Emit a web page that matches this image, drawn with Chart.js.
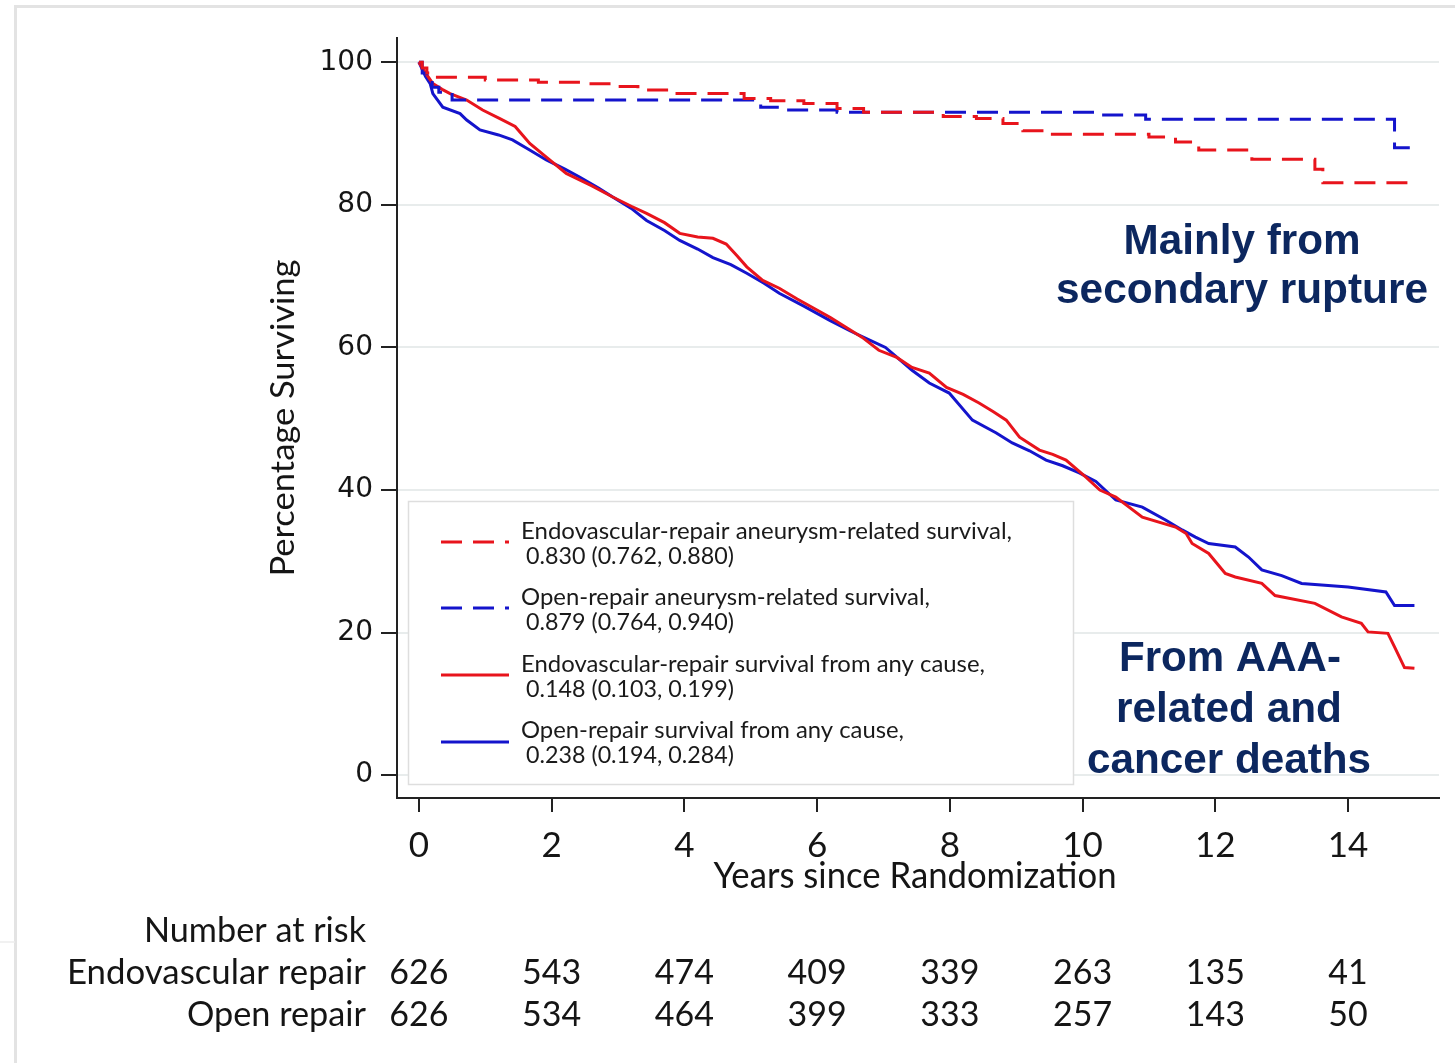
<!DOCTYPE html>
<html>
<head>
<meta charset="utf-8">
<script src="https://cdn.jsdelivr.net/npm/chart.js@4.4.1/dist/chart.umd.min.js"></script>
<style>
html,body{margin:0;padding:0;background:#fff;overflow:hidden}
#wrap{position:relative;width:1455px;height:1063px}
</style>
</head>
<body>
<div id="wrap"><canvas id="c" width="1455" height="1063"></canvas></div>
<script>
// ---------------- DATA ----------------
const xTickValues = [0, 2, 4, 6, 8, 10, 12, 14];
const xTickLabels = ['0', '2', '4', '6', '8', '10', '12', '14'];
const yTickValues = [0, 20, 40, 60, 80, 100];
const xAxisTitle = 'Years since Randomization';
const yAxisTitle = 'Percentage Surviving';

const seriesNames = [
  'Endovascular-repair aneurysm-related survival,',
  'Open-repair aneurysm-related survival,',
  'Endovascular-repair survival from any cause,',
  'Open-repair survival from any cause,'
];
const seriesStats = [
  '0.830 (0.762, 0.880)',
  '0.879 (0.764, 0.940)',
  '0.148 (0.103, 0.199)',
  '0.238 (0.194, 0.284)'
];

// Endovascular repair, aneurysm-related survival (step function)
const endoRelYears = [0, 0.05, 0.12, 0.25, 1.0, 1.8, 2.5, 2.9, 3.3, 3.8, 4.9, 5.3, 5.8, 6.3, 6.7, 7.9, 8.4, 8.8, 9.1, 9.5, 11.0, 11.4, 11.75, 12.55, 13.5, 13.62, 14.9];
const endoRelPct   = [100, 99.2, 98.5, 97.9, 97.5, 97.2, 97.0, 96.6, 96.1, 95.6, 94.9, 94.6, 94.2, 93.5, 93.0, 92.4, 92.1, 91.4, 90.4, 89.9, 89.5, 88.8, 87.7, 86.4, 85.0, 83.1, 83.1];

// Open repair, aneurysm-related survival (step function)
const openRelYears = [0, 0.05, 0.12, 0.2, 0.3, 0.5, 5.15, 5.4, 6.3, 10.2, 10.95, 14.7, 14.93];
const openRelPct   = [100, 98.5, 97.5, 96.5, 95.8, 94.7, 93.7, 93.3, 93.0, 92.6, 92.0, 88.0, 88.0];

// Endovascular repair, survival from any cause
const endoAllYears = [0, 0.1, 0.21, 0.35, 0.47, 0.72, 0.96, 1.22, 1.45, 1.67, 1.92, 2.22, 2.6, 2.92, 3.2, 3.43, 3.7, 3.93, 4.2, 4.43, 4.63, 4.8, 4.94, 5.18, 5.43, 5.7, 5.93, 6.2, 6.44, 6.68, 6.93, 7.2, 7.43, 7.69, 7.95, 8.2, 8.44, 8.65, 8.85, 9.05, 9.35, 9.55, 9.75, 10.05, 10.26, 10.5, 10.9, 11.4, 11.56, 11.65, 11.9, 12.15, 12.3, 12.7, 12.9, 13.5, 13.9, 14.2, 14.3, 14.6, 14.7, 14.85, 15.0];
const endoAllPct   = [100, 98.5, 97.0, 96.2, 95.6, 94.7, 93.3, 92.1, 91.0, 88.6, 86.7, 84.4, 82.7, 81.1, 79.8, 78.8, 77.5, 76.0, 75.5, 75.3, 74.5, 72.8, 71.3, 69.4, 68.3, 66.8, 65.6, 64.2, 62.8, 61.4, 59.6, 58.6, 57.2, 56.4, 54.4, 53.4, 52.2, 51.0, 49.8, 47.4, 45.6, 45.0, 44.2, 41.8, 40.0, 39.0, 36.2, 34.8, 33.9, 32.5, 31.1, 28.3, 27.8, 26.9, 25.2, 24.1, 22.2, 21.3, 20.1, 19.9, 18.0, 15.1, 15.0];

// Open repair, survival from any cause
const openAllYears = [0, 0.1, 0.17, 0.21, 0.36, 0.62, 0.72, 0.92, 1.2, 1.41, 1.65, 1.92, 2.2, 2.42, 2.7, 2.92, 3.2, 3.43, 3.7, 3.93, 4.2, 4.43, 4.7, 4.94, 5.2, 5.43, 5.8, 6.19, 6.5, 6.8, 7.03, 7.43, 7.69, 7.99, 8.34, 8.7, 8.94, 9.2, 9.45, 9.7, 9.95, 10.2, 10.5, 10.9, 11.25, 11.5, 11.7, 11.9, 12.3, 12.5, 12.7, 13.0, 13.3, 14.0, 14.57, 14.7, 15.0];
const openAllPct   = [100, 98.0, 97.0, 95.6, 93.7, 92.8, 91.9, 90.5, 89.8, 89.1, 87.8, 86.3, 85.0, 83.9, 82.4, 81.1, 79.5, 77.8, 76.4, 75.0, 73.8, 72.6, 71.6, 70.4, 69.0, 67.6, 65.8, 63.8, 62.3, 61.0, 60.0, 56.8, 55.0, 53.6, 49.8, 48.0, 46.6, 45.5, 44.2, 43.4, 42.4, 41.2, 38.6, 37.6, 35.8, 34.4, 33.4, 32.5, 32.0, 30.6, 28.8, 28.0, 26.9, 26.4, 25.7, 23.8, 23.8];

// Number at risk table
const riskTitle = 'Number at risk';
const riskGroups = ['Endovascular repair', 'Open repair'];
const riskEndo = [626, 543, 474, 409, 339, 263, 135, 41];
const riskOpen = [626, 534, 464, 399, 333, 257, 143, 50];

// Annotations
const noteTop = ['Mainly from', 'secondary rupture'];
const noteBottom = ['From AAA-', 'related and', 'cancer deaths'];

// ---------------- BUILD ----------------
const RED = '#e8141c';
const BLUE = '#1414cc';
const NAVY = '#0c275f';
const toPts = (xs, ys) => xs.map((x, i) => ({ x: x, y: ys[i] }));

function fitText(ctx, text, x, y, width, align) {
  ctx.save();
  const w = ctx.measureText(text).width;
  const s = width ? width / w : 1;
  ctx.translate(x, y);
  ctx.scale(s, 1);
  ctx.textAlign = align;
  ctx.fillText(text, 0, 0);
  ctx.restore();
}

const decorPlugin = {
  id: 'decor',
  beforeDraw(chart) {
    const ctx = chart.ctx;
    ctx.save();
    ctx.fillStyle = '#ffffff';
    ctx.fillRect(0, 0, chart.width, chart.height);
    ctx.strokeStyle = '#e3e3e3';
    ctx.lineWidth = 3;
    ctx.beginPath();
    ctx.moveTo(15.5, 1063); ctx.lineTo(15.5, 6.5); ctx.lineTo(1455, 6.5);
    ctx.stroke();
    ctx.lineWidth = 1.5;
    ctx.strokeStyle = '#ececec';
    ctx.beginPath();
    ctx.moveTo(0, 942); ctx.lineTo(15, 942);
    ctx.stroke();
    ctx.restore();
  },
  afterDraw(chart) {
    const ctx = chart.ctx;
    const xs = chart.scales.x;
    ctx.save();
    ctx.textBaseline = 'alphabetic';

    // Axis titles
    ctx.fillStyle = '#151515';
    ctx.font = '36px Lato';
    fitText(ctx, xAxisTitle, 915, 888, 403, 'center');
    ctx.save();
    ctx.translate(294, 418);
    ctx.rotate(-Math.PI / 2);
    ctx.font = '32px Lato';
    fitText(ctx, yAxisTitle, 0, 0, 317, 'center');
    ctx.restore();

    // Legend box
    ctx.fillStyle = '#ffffff';
    ctx.fillRect(408, 501, 665, 283);
    ctx.strokeStyle = '#dedede';
    ctx.lineWidth = 1.5;
    ctx.strokeRect(408.5, 501.5, 665, 283);
    const sampleY = [542, 608, 675, 742];
    const line1Y = [539, 605, 672, 738];
    const line2Y = [564, 630, 697, 763];
    const line1W = [491, 409, 464, 383];
    chart.data.datasets.forEach((ds, i) => {
      ctx.save();
      ctx.strokeStyle = ds.borderColor;
      ctx.lineWidth = 3;
      ctx.setLineDash(ds.borderDash || []);
      ctx.beginPath();
      ctx.moveTo(441, sampleY[i]);
      ctx.lineTo(509, sampleY[i]);
      ctx.stroke();
      ctx.restore();
      ctx.fillStyle = '#1a1a1a';
      ctx.font = '24px Lato';
      fitText(ctx, seriesNames[i], 521, line1Y[i], line1W[i], 'left');
      fitText(ctx, seriesStats[i], 526, line2Y[i], 208, 'left');
    });

    // Number at risk
    ctx.fillStyle = '#151515';
    ctx.font = '34px Lato';
    fitText(ctx, riskTitle, 366, 942, 222, 'right');
    fitText(ctx, riskGroups[0], 366, 984, 299, 'right');
    fitText(ctx, riskGroups[1], 366, 1026, 179, 'right');
    xTickValues.forEach((v, i) => {
      const px = xs.getPixelForValue(v);
      fitText(ctx, String(riskEndo[i]), px, 984, null, 'center');
      fitText(ctx, String(riskOpen[i]), px, 1026, null, 'center');
    });

    // Annotations
    ctx.fillStyle = NAVY;
    ctx.font = 'bold 42px "Liberation Sans"';
    fitText(ctx, noteTop[0], 1242, 254, 237, 'center');
    fitText(ctx, noteTop[1], 1242, 303, 372, 'center');
    fitText(ctx, noteBottom[0], 1230, 671, 222, 'center');
    fitText(ctx, noteBottom[1], 1229, 722, 226, 'center');
    fitText(ctx, noteBottom[2], 1229, 773, 284, 'center');
    ctx.restore();
  }
};

const datasets = [
  { label: seriesNames[0], data: toPts(endoRelYears, endoRelPct), borderColor: RED, borderDash: [21, 11], stepped: 'before' },
  { label: seriesNames[1], data: toPts(openRelYears, openRelPct), borderColor: BLUE, borderDash: [21, 11], stepped: 'before' },
  { label: seriesNames[2], data: toPts(endoAllYears, endoAllPct), borderColor: RED, borderDash: [], stepped: false },
  { label: seriesNames[3], data: toPts(openAllYears, openAllPct), borderColor: BLUE, borderDash: [], stepped: false }
].map(d => Object.assign({ borderWidth: 3, pointRadius: 0, fill: false, tension: 0 }, d));

new Chart(document.getElementById('c'), {
  type: 'line',
  data: { datasets: datasets },
  options: {
    responsive: false,
    animation: false,
    devicePixelRatio: 1,
    layout: { padding: { left: 0, right: 16, top: 38, bottom: 0 } },
    plugins: { legend: { display: false }, tooltip: { enabled: false } },
    scales: {
      x: {
        type: 'linear',
        min: -0.33,
        max: 15.37,
        afterBuildTicks: s => { s.ticks = xTickValues.map(v => ({ value: v })); },
        afterFit: s => { s.height = 265; },
        ticks: {
          autoSkip: false,
          maxRotation: 0,
          padding: 13,
          color: '#151515',
          font: { family: 'Lato', size: 35 },
          callback: v => xTickLabels[xTickValues.indexOf(v)]
        },
        grid: { drawOnChartArea: false, tickColor: '#222', tickLength: 14, lineWidth: 2 },
        border: { color: '#222', width: 2 }
      },
      y: {
        type: 'linear',
        min: -3.2,
        max: 103.4,
        afterBuildTicks: s => { s.ticks = yTickValues.map(v => ({ value: v })); },
        afterFit: s => { s.width = 397; },
        ticks: {
          padding: 8,
          color: '#151515',
          font: { family: 'DejaVu Sans', size: 28 },
          callback: v => String(v)
        },
        grid: { color: '#e8ecec', lineWidth: 2, tickColor: '#222', tickLength: 16 },
        border: { color: '#222', width: 2 }
      }
    }
  },
  plugins: [decorPlugin]
});
</script>
</body>
</html>
